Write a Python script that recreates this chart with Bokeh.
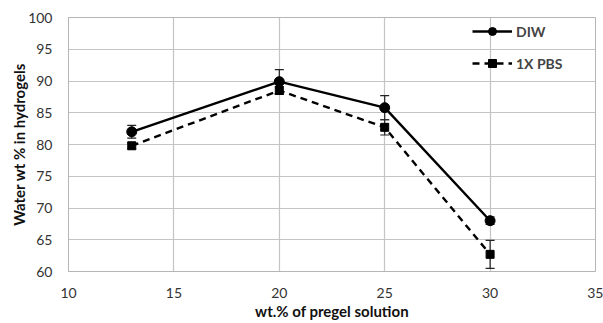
from bokeh.plotting import figure
from bokeh.models import ColumnDataSource, Whisker, TeeHead, Legend, LegendItem, FixedTicker
from bokeh.embed import file_html
from bokeh.resources import INLINE

x_vals = [13, 20, 25, 30]
diw = [82.0, 89.9, 85.8, 68.0]
diw_err = [1.0, 1.9, 1.9, 0.6]
pbs = [79.8, 88.5, 82.7, 62.7]
pbs_err = [0.5, 0.6, 1.2, 2.2]
x_ticks = [10, 15, 20, 25, 30, 35]
y_ticks = [60, 65, 70, 75, 80, 85, 90, 95, 100]

FONT = "Lato"

p = figure(width=603, height=323, output_backend="svg", toolbar_location=None,
           x_range=(10, 35), y_range=(60, 100),
           min_border_left=68, min_border_right=8, min_border_top=17, min_border_bottom=52)
p.outline_line_color = "#b5b5b5"
p.background_fill_color = "white"
p.border_fill_color = "white"

for ax in (p.xaxis[0], p.yaxis[0]):
    ax.major_tick_line_color = None
    ax.minor_tick_line_color = None
    ax.axis_line_color = "#b5b5b5"
    ax.major_label_text_font = FONT
    ax.major_label_text_font_size = "14px"
    ax.major_label_text_color = "#333333"
    ax.axis_label_text_font = FONT
    ax.axis_label_text_font_style = "bold"
    ax.axis_label_text_font_size = "15px"
    ax.axis_label_text_color = "#111111"

p.xaxis.ticker = FixedTicker(ticks=x_ticks)
p.yaxis.ticker = FixedTicker(ticks=y_ticks)
p.xaxis.axis_label = "wt.% of pregel solution"
p.yaxis.axis_label = "Water wt % in hydrogels"
p.xaxis.major_label_standoff = 10
p.yaxis.major_label_standoff = 10
p.xaxis.axis_label_standoff = 1
p.yaxis.axis_label_standoff = -3

p.xgrid.ticker = FixedTicker(ticks=x_ticks)
p.ygrid.ticker = FixedTicker(ticks=y_ticks)
p.grid.grid_line_color = "#c4c4c4"
p.grid.grid_line_width = 1.2

src = ColumnDataSource(dict(
    x=x_vals, diw=diw, pbs=pbs,
    diw_lo=[v - e for v, e in zip(diw, diw_err)], diw_hi=[v + e for v, e in zip(diw, diw_err)],
    pbs_lo=[v - e for v, e in zip(pbs, pbs_err)], pbs_hi=[v + e for v, e in zip(pbs, pbs_err)],
))

for lo, hi in (("diw_lo", "diw_hi"), ("pbs_lo", "pbs_hi")):
    w = Whisker(source=src, base="x", lower=lo, upper=hi, line_color="#222222", line_width=1.2,
                upper_head=TeeHead(size=9, line_color="#222222", line_width=1.2),
                lower_head=TeeHead(size=9, line_color="#222222", line_width=1.2))
    p.add_layout(w)

l1 = p.line("x", "diw", source=src, line_color="black", line_width=2.4)
m1 = p.scatter("x", "diw", source=src, marker="circle", size=10, color="black")
l2 = p.line("x", "pbs", source=src, line_color="black", line_width=2.4, line_dash="7 5")
m2 = p.scatter("x", "pbs", source=src, marker="square", size=8, color="black")

legend = Legend(items=[LegendItem(label="DIW", renderers=[l1, m1]),
                       LegendItem(label="1X PBS", renderers=[l2, m2])],
                location=(404, 198))
legend.background_fill_alpha = 0
legend.border_line_color = None
legend.label_text_font = FONT
legend.label_text_font_style = "bold"
legend.label_text_font_size = "14px"
legend.glyph_width = 40
legend.glyph_height = 20
legend.label_height = 20
legend.spacing = 12
legend.padding = 0
legend.margin = 0
legend.label_standoff = 4
p.add_layout(legend)

open("out.html", "w").write(file_html(p, INLINE))
